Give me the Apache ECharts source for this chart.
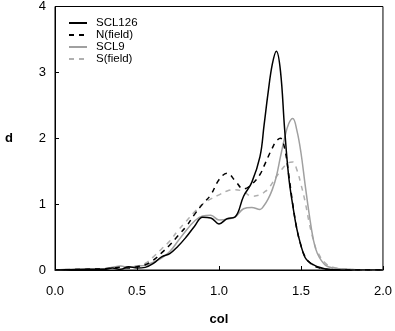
<!DOCTYPE html>
<html><head><meta charset="utf-8">
<script src="https://cdn.jsdelivr.net/npm/echarts@6/dist/echarts.min.js"></script>
<style>html,body{margin:0;padding:0;background:#fff}#c{width:395px;height:331px}</style>
</head><body><div id="c"></div>
<script>
const xs = [0, 0.1, 0.2, 0.3, 0.35, 0.4, 0.45, 0.5, 0.55, 0.6, 0.65, 0.7, 0.75, 0.8, 0.85, 0.9, 0.95, 1.0, 1.05, 1.1, 1.15, 1.2, 1.25, 1.275, 1.3, 1.325, 1.35, 1.375, 1.4, 1.425, 1.45, 1.475, 1.5, 1.525, 1.55, 1.575, 1.6, 1.65, 1.7, 1.8, 1.9, 2.0];
const scl126 = [0, 0.005, 0.01, 0.01, 0.03, 0.01, 0.05, 0.03, 0.04, 0.1, 0.2, 0.25, 0.36, 0.5, 0.66, 0.8, 0.79, 0.70, 0.78, 0.81, 1.12, 1.33, 1.72, 2.2, 2.7, 3.12, 3.32, 3.02, 2.15, 1.42, 0.98, 0.62, 0.37, 0.19, 0.12, 0.08, 0.05, 0.015, 0.005, 0, 0, 0];
const nField = [0, 0.005, 0.01, 0.02, 0.03, 0.04, 0.03, 0.05, 0.08, 0.15, 0.26, 0.38, 0.52, 0.66, 0.84, 1.0, 1.14, 1.37, 1.47, 1.35, 1.23, 1.3, 1.45, 1.58, 1.72, 1.85, 1.96, 2.0, 1.85, 1.45, 1.0, 0.62, 0.37, 0.2, 0.12, 0.07, 0.04, 0.015, 0.005, 0, 0, 0];
const scl9 = [0, 0.01, 0.01, 0.02, 0.04, 0.06, 0.04, 0.06, 0.07, 0.12, 0.18, 0.28, 0.44, 0.6, 0.74, 0.82, 0.83, 0.76, 0.77, 0.81, 0.93, 0.95, 0.92, 0.98, 1.08, 1.22, 1.42, 1.72, 2.0, 2.22, 2.3, 2.12, 1.78, 1.3, 0.85, 0.47, 0.25, 0.07, 0.03, 0.01, 0, 0];
const sField = [0, 0.01, 0.01, 0.02, 0.03, 0.05, 0.04, 0.06, 0.1, 0.2, 0.32, 0.44, 0.6, 0.74, 0.88, 1.0, 1.08, 1.14, 1.2, 1.22, 1.19, 1.12, 1.14, 1.18, 1.23, 1.32, 1.42, 1.5, 1.58, 1.63, 1.64, 1.52, 1.3, 1.04, 0.72, 0.46, 0.28, 0.1, 0.04, 0.01, 0, 0];
const seriesNames = ['SCL126', 'N(field)', 'SCL9', 'S(field)'];

const pair = ys => xs.map((x, i) => [x, ys[i]]);
const styles = [
  {color: '#000000', type: 'solid', width: 1.5},
  {color: '#000000', type: [5, 5], width: 1.5},
  {color: '#a0a0a0', type: 'solid', width: 1.5},
  {color: '#b0b0b0', type: [5, 5], width: 1.5}
];
const datas = [scl126, nField, scl9, sField];
const font = 'Liberation Sans, Arial, sans-serif';
const chart = echarts.init(document.getElementById('c'));
chart.setOption({
  animation: false,
  backgroundColor: '#fff',
  grid: {left: 55, right: 11, top: 6, bottom: 58, show: true, borderColor: '#000', borderWidth: 1},
  legend: {
    show: true,
    orient: 'vertical', left: 63, top: 12, itemWidth: 18, itemHeight: 12.5, itemGap: 0,
    itemStyle: {opacity: 0},
    textStyle: {fontFamily: font, fontSize: 11.5, color: '#000', lineHeight: 12, padding: [0, 0, 0, 4]},
    data: seriesNames
  },
  xAxis: {
    type: 'value', min: 0, max: 2, interval: 0.5,
    name: 'col', nameLocation: 'middle', nameGap: 43,
    nameTextStyle: {fontFamily: font, fontSize: 13, fontWeight: 'bold', color: '#000'},
    axisLine: {show: true, onZero: false, lineStyle: {color: '#000', width: 1}},
    axisTick: {show: true, inside: true, length: 4, lineStyle: {color: '#000'}},
    axisLabel: {fontFamily: font, fontSize: 13, color: '#000', margin: 15, formatter: v => v.toFixed(1)},
    splitLine: {show: false}
  },
  yAxis: {
    type: 'value', min: 0, max: 4, interval: 1,
    name: 'd', nameLocation: 'middle', nameGap: 42, nameRotate: 0,
    nameTextStyle: {fontFamily: font, fontSize: 13, fontWeight: 'bold', color: '#000'},
    axisLine: {show: true, lineStyle: {color: '#000', width: 1}},
    axisTick: {show: true, inside: true, length: 4, lineStyle: {color: '#000'}},
    axisLabel: {fontFamily: font, fontSize: 13, color: '#000', margin: 9},
    splitLine: {show: false}
  },
  series: datas.map((d, i) => ({
    name: seriesNames[i], type: 'line', data: pair(d), smooth: 0.4,
    showSymbol: false, symbol: 'none',
    lineStyle: styles[i], itemStyle: {color: styles[i].color}, z: 10 - i
  }))
});
</script></body></html>
